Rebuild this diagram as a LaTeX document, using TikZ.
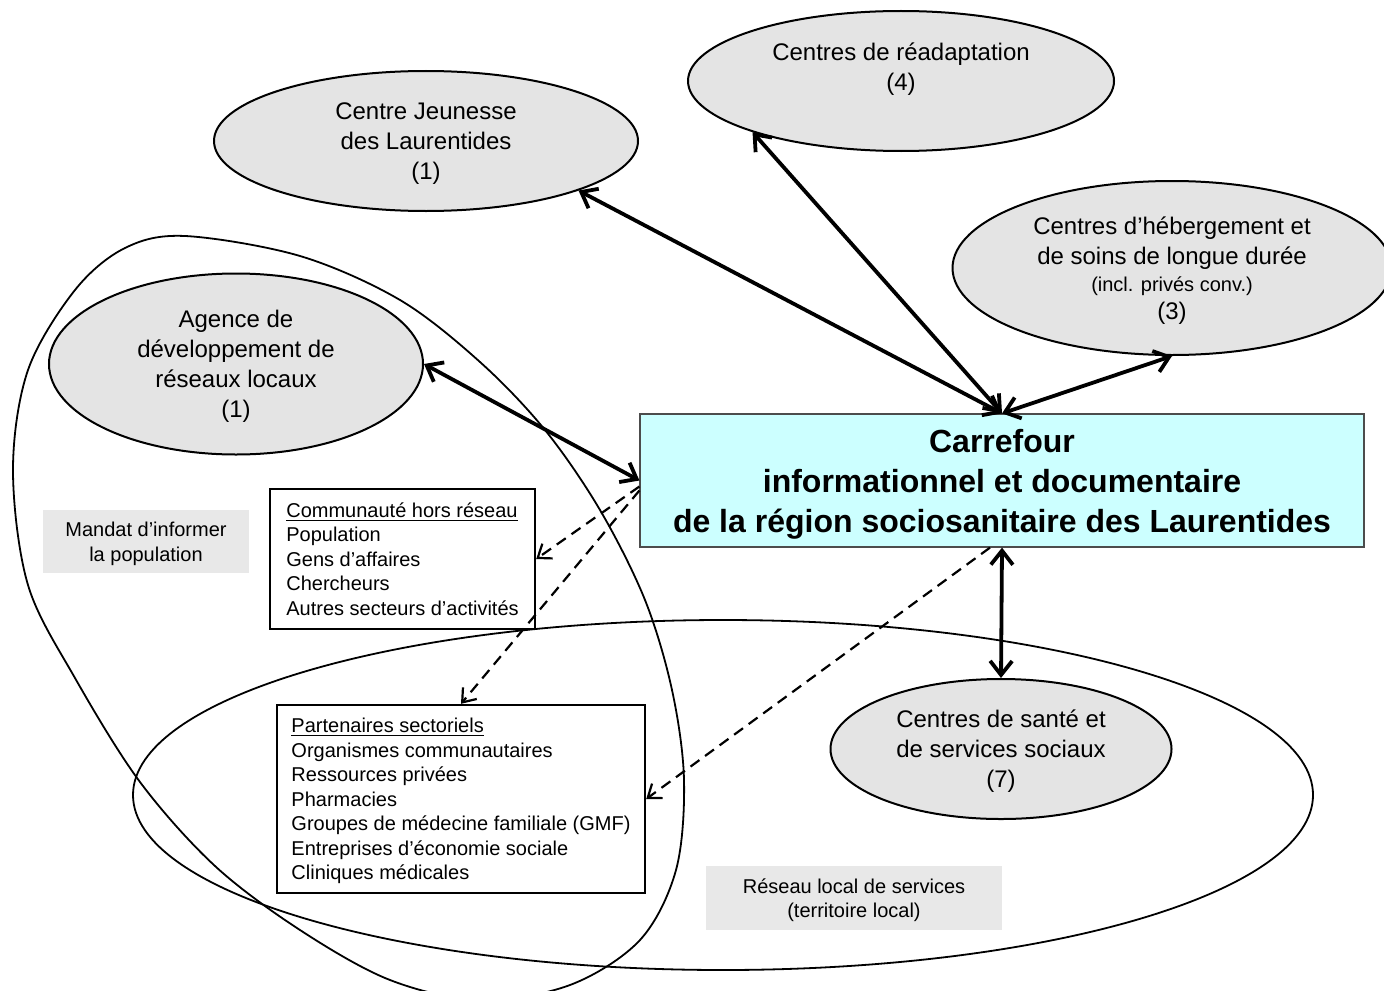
\documentclass[tikz,border=0pt]{standalone}
\usepackage{fontspec}
\setmainfont{Liberation Sans}
\usetikzlibrary{shapes.geometric,arrows.meta}
\definecolor{grisbulle}{HTML}{E4E4E4}
\definecolor{grisetiquette}{HTML}{E8E8E8}
\definecolor{carrefourbleu}{HTML}{CCFFFF}

\begin{document}
\begin{tikzpicture}[x=0.5pt,y=-0.5pt,
   bulle/.style={ellipse,draw,line width=1pt,fill=grisbulle,inner sep=0pt,align=center,text depth=-1.5pt,font=\fontsize{12}{15}\selectfont},
   liste/.style={draw,line width=1.2pt,fill=white,align=left,inner sep=0pt,font=\fontsize{10}{12.25}\selectfont},
   etiquette/.style={fill=grisetiquette,align=center,inner sep=0pt,text depth=0pt,font=\fontsize{10}{12.25}\selectfont},
   lien/.style={{Straight Barb[length=7pt,width=11pt]}-{Straight Barb[length=7pt,width=11pt]},line width=1.9pt},
   pointille/.style={-{Straight Barb[length=6pt,width=9pt]},line width=1.1pt,dash pattern=on 5.5pt off 3.5pt},
   contour/.style={line width=0.9pt}]

  \clip (0,0) rectangle (1384,990);

  % territoires
  \draw[contour] (723,795) ellipse [x radius=295pt,y radius=87.5pt];
  \draw[contour] plot[smooth cycle,tension=0.55] coordinates {
    (185,236) (300,256) (400,300) (480,362) (545,430) (600,510) (645,600)
    (672,690) (684,780) (676,870) (640,940) (570,985) (480,1000) (390,980)
    (300,930) (215,866) (140,782) (75,678) (28,585) (13,470) (28,370)
    (75,290) (125,248)};

  % --- etablissements ---
  \node[bulle,minimum width=212pt,minimum height=70pt] (jeunesse) at (426,141)
    {Centre Jeunesse\\des Laurentides\\(1)};
  \node[bulle,minimum width=213pt,minimum height=70pt,text depth=14.5pt] (readapt) at (901,81)
    {Centres de réadaptation\\(4)};
  \node[bulle,minimum width=219.5pt,minimum height=87pt] (chsld) at (1172,268)
    {Centres d’hébergement et\\de soins de longue durée\\[-1.5pt]{\fontsize{10}{12}\selectfont(incl. privés conv.)}\\[-1pt](3)};
  \node[bulle,minimum width=187pt,minimum height=90.5pt,text depth=-2.5pt] (agence) at (236,364)
    {Agence de\\développement de\\réseaux locaux\\(1)};
  \node[bulle,minimum width=170.5pt,minimum height=70pt,text depth=0pt] (csss) at (1001,749)
    {Centres de santé et\\de services sociaux\\(7)};

  % --- carrefour ---
  \node[draw=black!70,line width=0.6pt,fill=carrefourbleu,minimum width=362pt,minimum height=66.5pt,
        align=center,inner sep=0pt,text depth=-0.6pt,font=\bfseries\fontsize{16}{20}\selectfont] (carrefour) at (1002,480.5)
    {Carrefour\\informationnel et documentaire\\de la région sociosanitaire des Laurentides};

  % --- partenaires ---
  \node[liste,minimum width=132.5pt,minimum height=70pt] (horsreseau) at (402.5,559)
    {\underline{Communauté hors réseau}\\Population\\Gens d’affaires\\Chercheurs\\Autres secteurs d’activités};
  \node[liste,minimum width=184pt,minimum height=94pt,text depth=-1.9pt] (partenaires) at (461,799)
    {\underline{Partenaires sectoriels}\\Organismes communautaires\\Ressources privées\\Pharmacies\\Groupes de médecine familiale (GMF)\\Entreprises d’économie sociale\\Cliniques médicales};

  \node[etiquette,minimum width=103pt,minimum height=31.5pt] (mandat) at (146,541.5)
    {Mandat d’informer\\la population};
  \node[etiquette,minimum width=148pt,minimum height=32pt] (reseaulocal) at (854,898)
    {Réseau local de services\\(territoire local)};

  % --- liens ---
  \foreach \n/\a in {jeunesse/-18.5,readapt/199,chsld/south}
    \draw[lien] (carrefour.north) -- (\n.\a);
  \draw[lien] (agence.east) -- (carrefour.west);
  \draw[lien] (carrefour.south) -- (csss.north);

  \draw[pointille] ([yshift=-3pt]carrefour.west) -- (horsreseau.east);
  \draw[pointille] ([yshift=-5pt]carrefour.west) -- (partenaires.north);
  \draw[pointille] ([xshift=-6pt]carrefour.south) -- (partenaires.east);
\end{tikzpicture}
\end{document}
